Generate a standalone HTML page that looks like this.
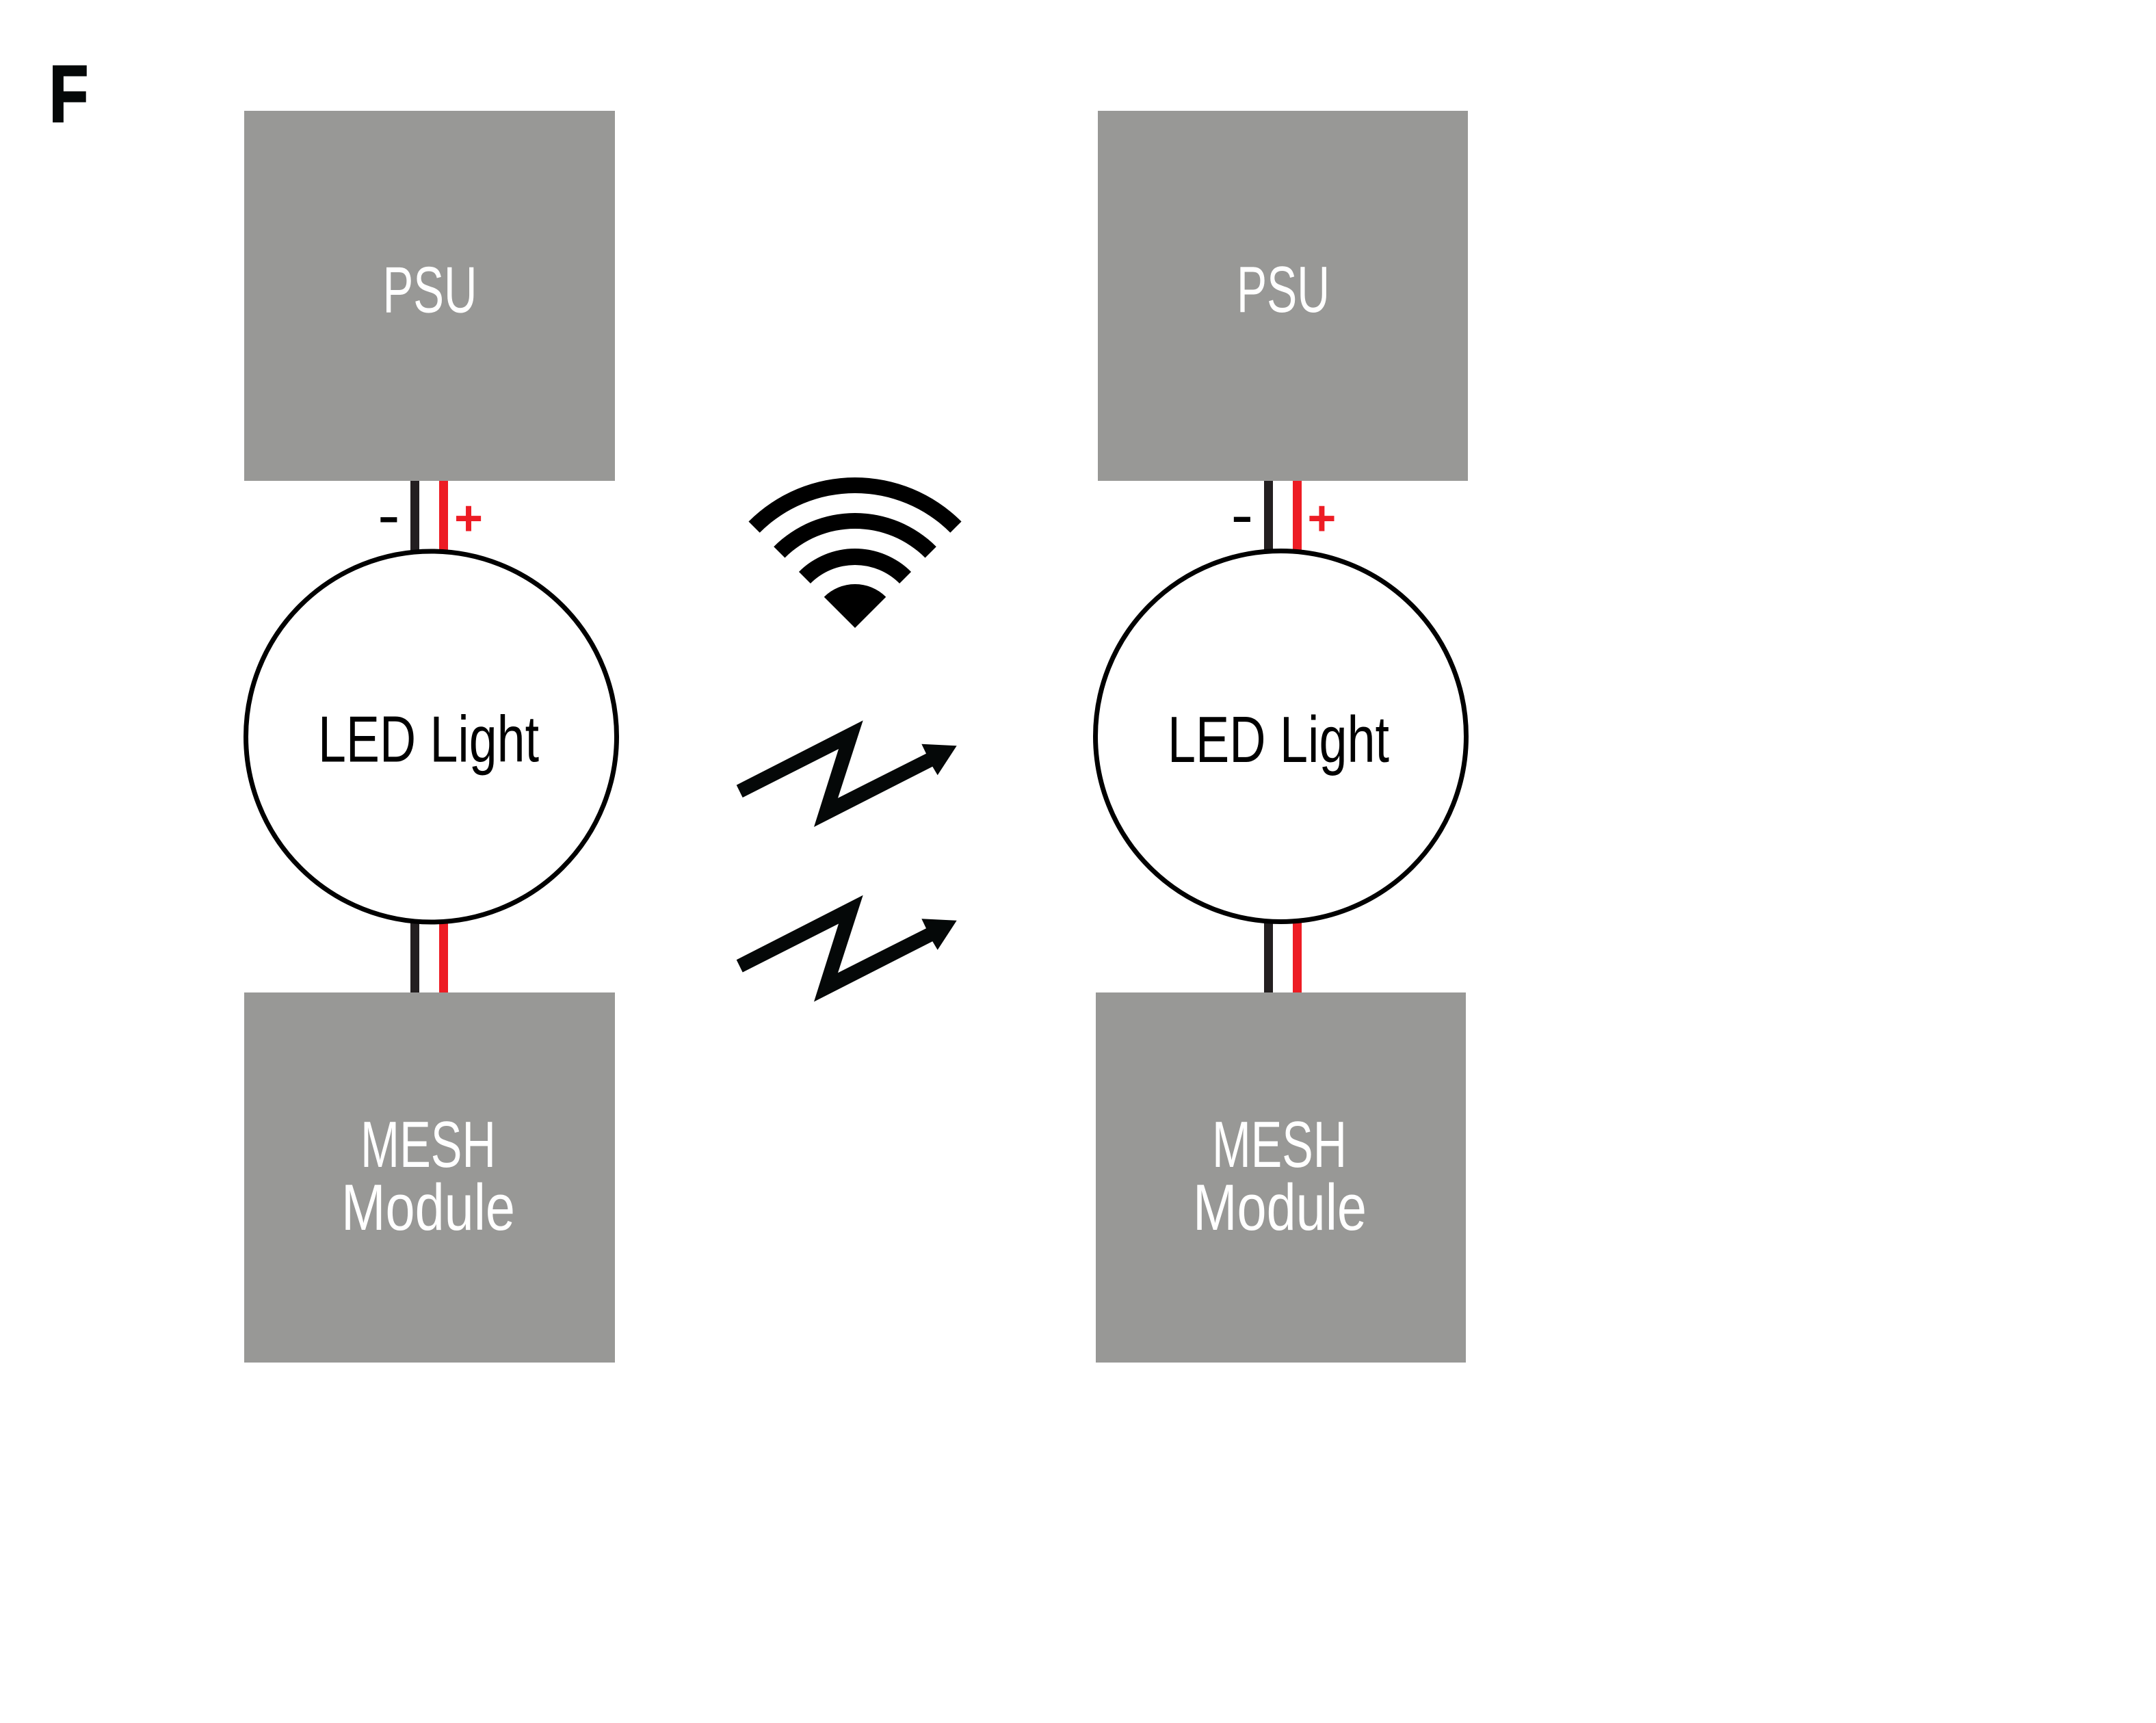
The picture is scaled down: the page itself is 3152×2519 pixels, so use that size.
<!DOCTYPE html>
<html>
<head>
<meta charset="utf-8">
<style>
  html, body { margin: 0; padding: 0; background: #ffffff; }
  body { width: 3152px; height: 2519px; overflow: hidden; }
  svg { display: block; }
  .lbl { font-family: "Liberation Sans Narrow", "Liberation Sans", sans-serif; font-size: 96px; }
  .w { fill: #ffffff; }
  .k { fill: #000000; }
</style>
</head>
<body>
<svg width="3152" height="2519" viewBox="0 0 3152 2519" xmlns="http://www.w3.org/2000/svg">
  <rect x="0" y="0" width="3152" height="2519" fill="#ffffff"/>

  <!-- Panel letter -->
  <text x="72" y="177.5" font-family="Liberation Sans, sans-serif" font-weight="bold" font-size="117" textLength="57" lengthAdjust="spacingAndGlyphs" fill="#050808" stroke="#050808" stroke-width="3">F</text>

  <!-- ===== LEFT COLUMN ===== -->
  <!-- wires -->
  <rect x="600" y="700" width="13" height="110" fill="#231f20"/>
  <rect x="642" y="700" width="13" height="110" fill="#ed1c24"/>
  <rect x="600" y="1345" width="13" height="108" fill="#231f20"/>
  <rect x="642" y="1345" width="13" height="108" fill="#ed1c24"/>

  <!-- PSU box -->
  <rect x="357" y="162" width="542" height="541" fill="#989896"/>
  <text class="lbl w" x="559.5" y="456.5" textLength="138" lengthAdjust="spacingAndGlyphs">PSU</text>

  <!-- polarity -->
  <text x="552.7" y="776" font-family="Liberation Sans, sans-serif" font-weight="bold" font-size="62" textLength="31.6" lengthAdjust="spacingAndGlyphs" fill="#000">-</text>
  <text x="664" y="782" font-family="Liberation Sans, sans-serif" font-weight="bold" font-size="72" fill="#ed1c24">+</text>

  <!-- LED circle -->
  <circle cx="630.5" cy="1077" r="271" fill="#ffffff" stroke="#000000" stroke-width="7"/>
  <text class="lbl k" x="465" y="1113.5" textLength="323" lengthAdjust="spacingAndGlyphs">LED Light</text>

  <!-- MESH box -->
  <rect x="357" y="1451" width="542" height="541" fill="#989896"/>
  <text class="lbl w" x="527" y="1706" textLength="198" lengthAdjust="spacingAndGlyphs">MESH</text>
  <text class="lbl w" x="499" y="1798" textLength="254" lengthAdjust="spacingAndGlyphs">Module</text>

  <!-- ===== RIGHT COLUMN ===== -->
  <rect x="1848" y="700" width="13" height="110" fill="#231f20"/>
  <rect x="1890" y="700" width="13" height="110" fill="#ed1c24"/>
  <rect x="1848" y="1345" width="13" height="108" fill="#231f20"/>
  <rect x="1890" y="1345" width="13" height="108" fill="#ed1c24"/>

  <rect x="1605" y="162" width="541" height="541" fill="#989896"/>
  <text class="lbl w" x="1808" y="456" textLength="136" lengthAdjust="spacingAndGlyphs">PSU</text>

  <text x="1800.2" y="775.5" font-family="Liberation Sans, sans-serif" font-weight="bold" font-size="62" textLength="31.6" lengthAdjust="spacingAndGlyphs" fill="#000">-</text>
  <text x="1911.4" y="782" font-family="Liberation Sans, sans-serif" font-weight="bold" font-size="72" fill="#ed1c24">+</text>

  <circle cx="1872.5" cy="1076.5" r="271" fill="#ffffff" stroke="#000000" stroke-width="7"/>
  <text class="lbl k" x="1707" y="1114" textLength="324" lengthAdjust="spacingAndGlyphs">LED Light</text>

  <rect x="1602" y="1451" width="541" height="541" fill="#989896"/>
  <text class="lbl w" x="1772" y="1706" textLength="197" lengthAdjust="spacingAndGlyphs">MESH</text>
  <text class="lbl w" x="1744" y="1798" textLength="254" lengthAdjust="spacingAndGlyphs">Module</text>

  <!-- ===== WIFI ICON ===== -->
  <g fill="#000000">
    <path d="M1250,918 L1204.75,872.75 A64,64 0 0 1 1295.25,872.75 Z"/>
    <path d="M1167.98,835.98 A116,116 0 0 1 1332.02,835.98 L1315.05,852.95 A92,92 0 0 0 1184.95,852.95 Z"/>
    <path d="M1131.21,799.21 A168,168 0 0 1 1368.79,799.21 L1352.53,815.47 A145,145 0 0 0 1147.47,815.47 Z"/>
    <path d="M1094.44,762.44 A220,220 0 0 1 1405.56,762.44 L1389.30,778.70 A197,197 0 0 0 1110.70,778.70 Z"/>
  </g>

  <!-- ===== LIGHTNING ARROWS ===== -->
  <g fill="#050808">
    <polygon points="1076.7,1147.7 1261.7,1053.3 1225,1166.7 1354,1101.7 1347.3,1087.7 1398.7,1090.3 1370.7,1133.3 1363.3,1120.7 1190,1209 1226,1095 1085.7,1166"/>
    <polygon transform="translate(0,255.5)" points="1076.7,1147.7 1261.7,1053.3 1225,1166.7 1354,1101.7 1347.3,1087.7 1398.7,1090.3 1370.7,1133.3 1363.3,1120.7 1190,1209 1226,1095 1085.7,1166"/>
  </g>
</svg>
</body>
</html>
